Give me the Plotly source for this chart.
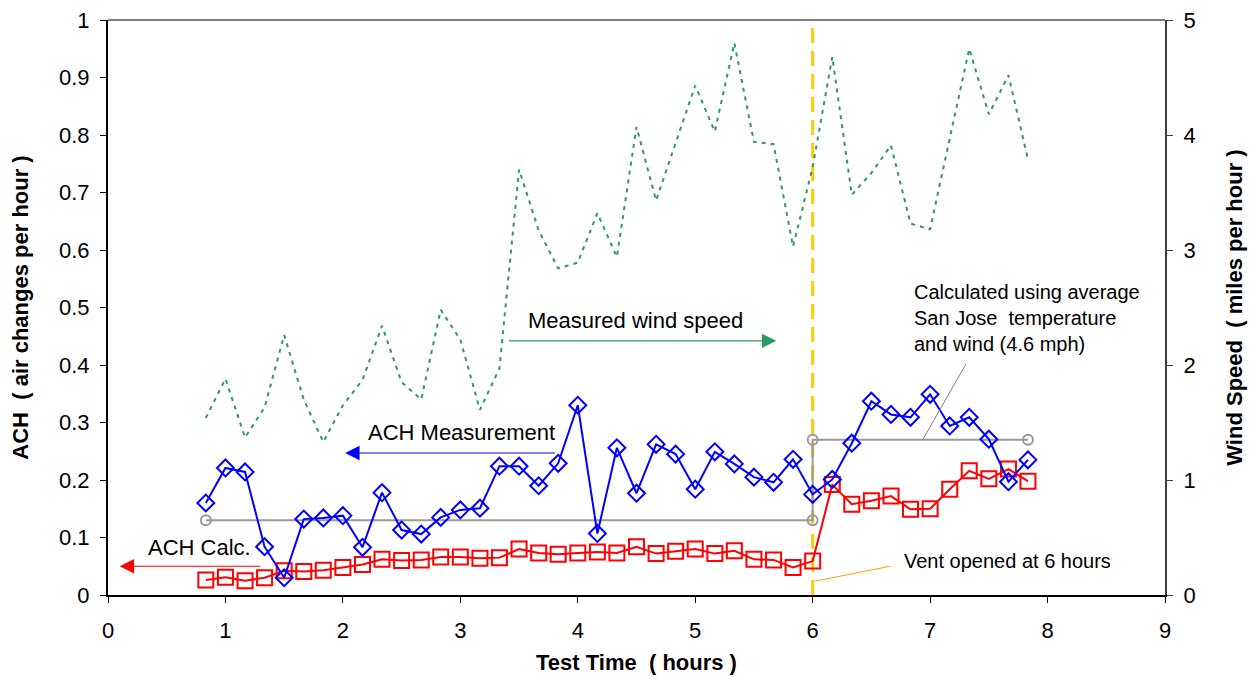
import plotly.graph_objects as go

# Time in hours (10-minute samples)
time_h = [0.833, 1.0, 1.167, 1.333, 1.5, 1.667, 1.833, 2.0, 2.167, 2.333, 2.5, 2.667, 2.833, 3.0,
          3.167, 3.333, 3.5, 3.667, 3.833, 4.0, 4.167, 4.333, 4.5, 4.667, 4.833, 5.0, 5.167, 5.333,
          5.5, 5.667, 5.833, 6.0, 6.167, 6.333, 6.5, 6.667, 6.833, 7.0, 7.167, 7.333, 7.5, 7.667, 7.833]

ach_measured = [0.160, 0.221, 0.214, 0.084, 0.030, 0.132, 0.134, 0.138, 0.083, 0.178, 0.113, 0.106,
                0.135, 0.148, 0.151, 0.224, 0.224, 0.190, 0.229, 0.330, 0.107, 0.256, 0.177, 0.262,
                0.245, 0.184, 0.249, 0.228, 0.205, 0.196, 0.236, 0.175, 0.201, 0.264, 0.337, 0.314,
                0.309, 0.349, 0.294, 0.309, 0.271, 0.197, 0.235]

ach_calc = [0.026, 0.031, 0.025, 0.030, 0.042, 0.041, 0.043, 0.048, 0.053, 0.062, 0.060, 0.061,
            0.066, 0.066, 0.064, 0.065, 0.080, 0.073, 0.071, 0.073, 0.075, 0.073, 0.084, 0.072,
            0.076, 0.080, 0.072, 0.077, 0.062, 0.061, 0.048, 0.059, 0.192, 0.158, 0.164, 0.172,
            0.149, 0.150, 0.184, 0.216, 0.202, 0.219, 0.198]

wind_mph = [1.54, 1.88, 1.37, 1.63, 2.26, 1.70, 1.33, 1.65, 1.87, 2.34, 1.85, 1.70, 2.48, 2.22,
            1.61, 1.97, 3.70, 3.17, 2.84, 2.89, 3.32, 2.94, 4.07, 3.43, 3.93, 4.43, 4.03, 4.80,
            3.94, 3.92, 3.03, 3.72, 4.68, 3.48, 3.67, 3.91, 3.23, 3.18, 3.97, 4.75, 4.18, 4.52, 3.79]

avg_time = [0.833, 6.0, 6.0, 7.833]
avg_ach = [0.13, 0.13, 0.27, 0.27]

FONT = "Arial, 'Liberation Sans', sans-serif"

fig = go.Figure()

fig.add_trace(go.Scatter(x=time_h, y=wind_mph, yaxis="y2", mode="lines",
                         line=dict(color="#2E9A63", width=2, dash="4px,5px"),
                         name="Measured wind speed"))
fig.add_trace(go.Scatter(x=avg_time, y=avg_ach, mode="lines+markers",
                         line=dict(color="#999999", width=2),
                         marker=dict(symbol="circle-open", size=10, color="#999999",
                                     line=dict(width=2, color="#999999")),
                         name="Average"))
fig.add_trace(go.Scatter(x=time_h, y=ach_calc, mode="lines+markers",
                         line=dict(color="#FF0000", width=2),
                         marker=dict(symbol="square-open", size=15, color="#FF0000",
                                     line=dict(width=2, color="#FF0000")),
                         name="ACH Calc."))
fig.add_trace(go.Scatter(x=time_h, y=ach_measured, mode="lines+markers",
                         line=dict(color="#0000FF", width=2),
                         marker=dict(symbol="diamond-open", size=13, color="#0000FF",
                                     line=dict(width=2, color="#0000FF")),
                         name="ACH Measurement"))

shapes = [
    # vent line
    dict(type="line", xref="x", yref="y", x0=6, x1=6, y0=0, y1=1,
         line=dict(color="#FFCC00", width=3, dash="15px,8px"), layer="below"),
    # top border
    dict(type="line", xref="paper", yref="paper", x0=0, x1=1, y0=1, y1=1,
         line=dict(color="#808080", width=2)),
    # leader lines
    dict(type="line", xref="x", yref="y", x0=7.306, y0=0.402, x1=6.94, y1=0.271,
         line=dict(color="#808080", width=1)),
    dict(type="line", xref="x", yref="y", x0=6.02, y0=0.024, x1=6.66, y1=0.050,
         line=dict(color="#FFA500", width=1)),
]

annotations = [
    dict(x=5.69, y=0.442, ax=3.40, ay=0.442, xref="x", yref="y", axref="x", ayref="y",
         text="", showarrow=True, arrowhead=2, arrowsize=2.6, arrowwidth=1.1, arrowcolor="#2E9A63"),
    dict(x=2.02, y=0.247, ax=3.82, ay=0.247, xref="x", yref="y", axref="x", ayref="y",
         text="", showarrow=True, arrowhead=2, arrowsize=2.6, arrowwidth=1.1, arrowcolor="#0000FF"),
    dict(x=0.10, y=0.050, ax=1.31, ay=0.050, xref="x", yref="y", axref="x", ayref="y",
         text="", showarrow=True, arrowhead=2, arrowsize=2.6, arrowwidth=1.1, arrowcolor="#FF0000"),
    dict(x=4.49, y=0.478, xref="x", yref="y", text="Measured wind speed", showarrow=False,
         font=dict(size=22, color="#000000", family=FONT)),
    dict(x=3.01, y=0.282, xref="x", yref="y", text="ACH Measurement", showarrow=False,
         font=dict(size=22, color="#000000", family=FONT)),
    dict(x=0.78, y=0.082, xref="x", yref="y", text="ACH Calc.", showarrow=False,
         font=dict(size=22, color="#000000", family=FONT)),
    dict(x=6.846, y=0.482, xref="x", yref="y", xanchor="left", yanchor="middle", align="left",
         text="Calculated using average<br>San Jose  temperature<br>and wind (4.6 mph)",
         showarrow=False, font=dict(size=20, color="#000000", family=FONT)),
    dict(x=6.76, y=0.059, xref="x", yref="y", xanchor="left", text="Vent opened at 6 hours",
         showarrow=False, font=dict(size=20, color="#000000", family=FONT)),
]

fig.update_layout(
    width=1253, height=679,
    margin=dict(l=108, r=88, t=20, b=84),
    paper_bgcolor="white", plot_bgcolor="white",
    showlegend=False,
    font=dict(family=FONT, size=22, color="#000000"),
    shapes=shapes, annotations=annotations,
    xaxis=dict(range=[0, 9], tick0=0, dtick=1, showgrid=False, zeroline=False,
               showline=True, linecolor="#000000", linewidth=2, automargin=False,
               ticks="outside", ticklen=6, tickcolor="#000000", ticklabelstandoff=9,
               tickfont=dict(size=22),
               title=dict(text="<b>Test Time  ( hours )</b>", font=dict(size=22), standoff=12)),
    yaxis=dict(range=[0, 1], tick0=0, dtick=0.1, showgrid=False, zeroline=False,
               showline=True, linecolor="#000000", linewidth=2, automargin=False,
               ticks="outside", ticklen=6, tickcolor="#000000", tickformat="~g",
               ticklabelstandoff=6, tickfont=dict(size=22),
               title=dict(text="<b>ACH  ( air changes per hour )</b>", font=dict(size=22), standoff=24)),
    yaxis2=dict(range=[0, 5], tick0=0, dtick=1, overlaying="y", side="right",
                showgrid=False, zeroline=False, automargin=False,
                showline=True, linecolor="#404040", linewidth=2,
                ticks="outside", ticklen=6, tickcolor="#404040",
                ticklabelstandoff=6, tickfont=dict(size=22),
                title=dict(text="<b>Wind Speed  ( miles per hour )</b>", font=dict(size=22), standoff=32)),
)

fig.write_html("out.html")
